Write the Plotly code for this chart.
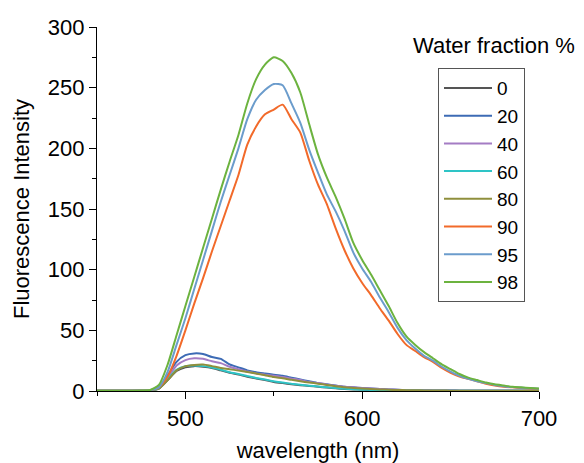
import plotly.graph_objects as go

wavelength = list(range(450, 705, 5))

water_fractions = ["0", "20", "40", "60", "80", "90", "95", "98"]

int_0 = [0.2] * 6 + [0.4, 2, 9, 16.5, 19.5, 20.5, 20, 19, 17, 15, 13.5, 11.7, 10.3, 9, 7.5,
                     6.5, 5.6, 4.8, 4.2, 3.5, 2.8, 2.2, 1.7, 1.3, 1, 0.8, 0.6, 0.5, 0.4, 0.4,
                     0.3, 0.3, 0.3, 0.2, 0.2, 0.2, 0.2, 0.2, 0.2, 0.2, 0.2, 0.2, 0.2, 0.2, 0.2]
int_20 = [0.2] * 6 + [0.4, 3, 13, 24, 29.5, 31, 30.5, 28, 26.5, 22, 19.5, 17, 15.5, 14.5, 13.5,
                      12.5, 11, 9.5, 8, 6.5, 5.5, 4.5, 3.5, 3, 2.5, 2, 1.6, 1.3, 1, 0.8,
                      0.7, 0.6, 0.5, 0.4, 0.4, 0.3, 0.3, 0.3, 0.3, 0.3, 0.2, 0.2, 0.2, 0.2, 0.2]
int_40 = [0.2] * 6 + [0.4, 2.5, 11, 21, 25.5, 27, 26.5, 24.5, 23, 20, 18, 16, 14.5, 13.5, 12.5,
                      11.5, 10.2, 9, 7.5, 6.5, 5.3, 4.3, 3.5, 3, 2.5, 2, 1.6, 1.3, 1, 0.8,
                      0.7, 0.6, 0.5, 0.4, 0.4, 0.3, 0.3, 0.3, 0.3, 0.3, 0.2, 0.2, 0.2, 0.2, 0.2]
int_60 = [0.2] * 6 + [0.4, 2.2, 10, 17.5, 20.5, 21, 20.5, 19.3, 17.5, 15.5, 14, 12.3, 10.8, 9.5, 8,
                      7, 6, 5.2, 4.4, 3.7, 3, 2.4, 1.8, 1.4, 1.1, 0.9, 0.7, 0.6, 0.5, 0.4,
                      0.4, 0.3, 0.3, 0.3, 0.3, 0.2, 0.2, 0.2, 0.2, 0.2, 0.2, 0.2, 0.2, 0.2, 0.2]
int_80 = [0.2] * 6 + [0.4, 2, 9, 17, 20.5, 21.5, 21.8, 20.5, 19, 18, 16.8, 15.7, 14.5, 13, 11.5,
                      10.5, 9.2, 8, 7, 6, 5, 4, 3, 2.5, 2, 1.6, 1.3, 1, 0.8, 0.7,
                      0.6, 0.5, 0.4, 0.4, 0.3, 0.3, 0.3, 0.3, 0.3, 0.3, 0.3, 0.3, 0.3, 0.3, 0.3]
int_90 = [0.3] * 5 + [0.4] + [0.7, 3, 12, 29, 50, 72, 93, 115, 136, 157, 178, 203, 218, 228, 232,
                              236, 224, 213, 190, 170, 154, 134, 116, 101, 89, 79, 68, 58, 47, 38,
                              33, 28, 24, 19, 15, 12, 10, 8, 6, 4.5, 3.5, 3, 2.5, 2, 1.7]
int_95 = [0.3] * 5 + [0.4] + [0.7, 3, 16, 38, 60, 84, 108, 132, 156, 178, 200, 224, 240, 248, 253,
                              252, 237, 221, 199, 180, 162, 148, 132, 114, 101, 90, 77, 65, 52, 42,
                              35, 29, 25, 20, 16, 12.5, 10, 8, 6.5, 5, 4, 3.2, 2.7, 2.2, 1.8]
int_98 = [0.3] * 5 + [0.4] + [0.8, 5, 22, 46, 70, 94, 118, 142, 166, 189, 211, 237, 257, 269, 275,
                              272, 262, 246, 220, 195, 176, 160, 142, 122, 108, 96, 83, 70, 56, 45,
                              38, 32, 27, 22, 18, 14, 11, 9, 7, 5.5, 4.5, 3.5, 3, 2.5, 2]

series = [int_0, int_20, int_40, int_60, int_80, int_90, int_95, int_98]
colors = ["#555555", "#3d6bb5", "#a47cc4", "#2ec4c6", "#8f8f3c", "#f26a2a", "#6b9ccc", "#6cb33f"]

FONT = "Liberation Sans, Arial, sans-serif"

fig = go.Figure()
for name, ys, c in zip(water_fractions, series, colors):
    fig.add_trace(go.Scatter(x=wavelength, y=ys, mode="lines", name=name,
                             line=dict(color=c, width=2, shape="spline", smoothing=0.6)))

# page body has an 8px default margin, so the figure is 8px smaller on each axis
fig.update_layout(
    width=576, height=455,
    margin=dict(l=89, r=45, t=19, b=72, autoexpand=False),
    paper_bgcolor="white", plot_bgcolor="white",
    font=dict(family=FONT, size=22, color="black"),
    showlegend=True,
    legend=dict(x=0.7715, y=0.887, xanchor="left", yanchor="top",
                bordercolor="#555555", borderwidth=1, bgcolor="rgba(255,255,255,0)",
                font=dict(family=FONT, size=19, color="black"),
                itemwidth=48, tracegroupgap=0),
    annotations=[dict(text="Water fraction %", x=0.899, y=0.948, xref="paper", yref="paper",
                      xanchor="center", yanchor="middle", showarrow=False,
                      font=dict(family=FONT, size=22, color="black"))],
)

fig.update_xaxes(
    range=[450, 700], tickvals=[500, 600, 700], ticks="outside", ticklen=7, tickwidth=1.3,
    tickcolor="black", showline=True, linecolor="black", linewidth=1.3, showgrid=False,
    zeroline=False, tickfont=dict(size=22), automargin=False,
    minor=dict(tickvals=[450, 550, 650], ticks="outside", ticklen=4, tickwidth=1.3, tickcolor="black",
               showgrid=False),
    title=dict(text="wavelength (nm)", font=dict(size=22), standoff=16),
)
fig.update_yaxes(
    range=[0, 300], tick0=0, dtick=50, ticks="outside", ticklen=7, tickwidth=1.3,
    tickcolor="black", showline=True, linecolor="black", linewidth=1.3, showgrid=False,
    zeroline=False, tickfont=dict(size=22), automargin=False,
    minor=dict(dtick=25, ticks="outside", ticklen=4, tickwidth=1.3, tickcolor="black", showgrid=False),
    title=dict(text="Fluorescence Intensity", font=dict(size=22), standoff=12),
)

fig.write_html("out.html")
